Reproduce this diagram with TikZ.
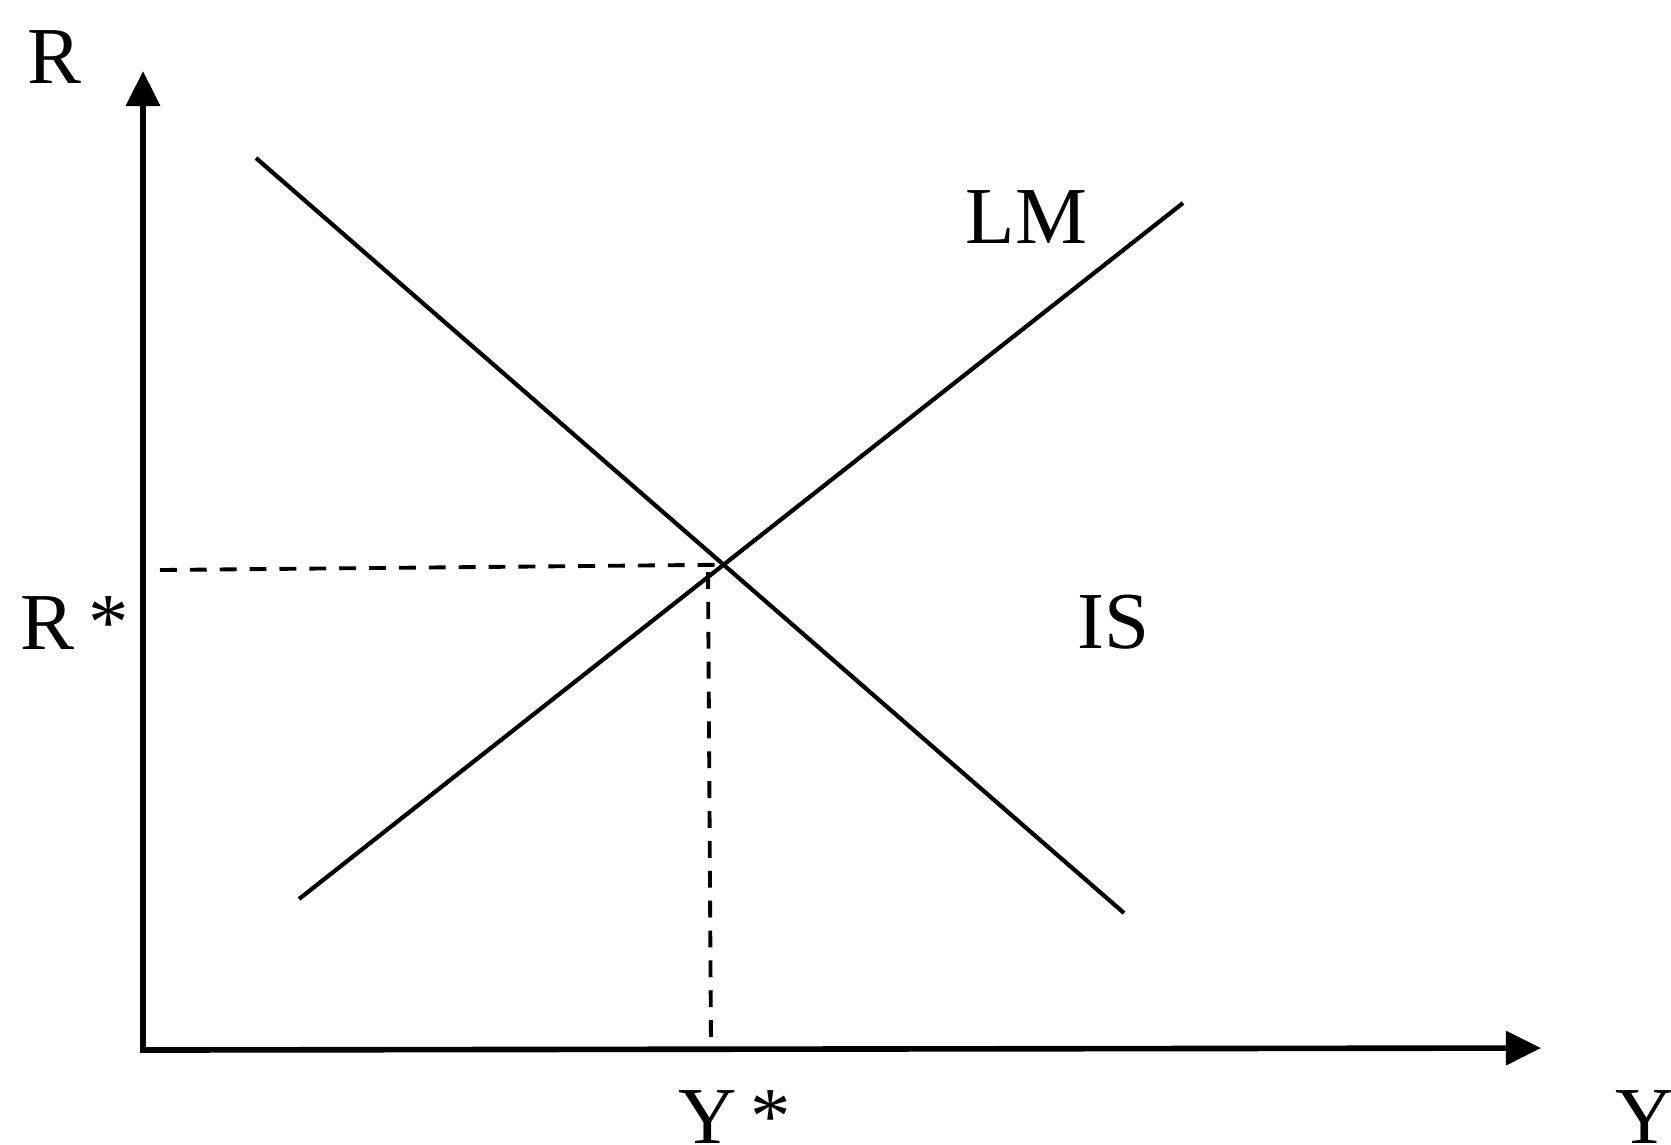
\documentclass[tikz,border=0pt]{standalone}
\usepackage{fontspec}
\setmainfont{Liberation Serif}
\usetikzlibrary{arrows.meta,intersections}
\begin{document}
\begin{tikzpicture}[x=0.1mm, y=-0.1mm,
    axis/.style={line width=1.6pt, {Triangle[length=10pt, width=9.5pt]}-{Triangle[length=10pt, width=9.5pt]}},
    curve/.style={line width=1.2pt},
    guide/.style={line width=1.1pt, dash pattern=on 4.8pt off 3.7pt},
    lbl/.style={font=\fontsize{23}{28}\selectfont, inner sep=0pt, anchor=base west}]
  \useasboundingbox (0,0) rectangle (1671,1144);
  % axes
  \coordinate (O) at (143,1050);
  \coordinate (ytip) at (143,71);
  \coordinate (xtip) at (1541,1048);
  \draw[axis] (ytip) -- (O) -- (xtip);
  % curves
  \draw[curve, name path=is] (256,158) coordinate (is1) -- (1124,913) coordinate (is2);
  \draw[curve, name path=lm] (299,899) coordinate (lm1) -- (1183,203) coordinate (lm2);
  \path[name intersections={of=is and lm, by=E}];
  % equilibrium guides
  \coordinate (rstar) at (160,570);
  \coordinate (ydrop) at (708,572);
  \coordinate (ystar) at (711,1047);
  \draw[guide] (rstar) -- (E);
  \draw[guide] (ydrop) -- (ystar);
  % labels
  \node[lbl] (Rlab) at (27,83) {R};
  \node[lbl] (Rstarlab) at (20,649) {R\,*};
  \node[lbl] (Ystarlab) at (678,1143) {Y\,*};
  \node[lbl] (Ylab) at (1615,1143) {Y};
  \node[lbl] (LMlab) at (965,243) {LM};
  \node[lbl] (ISlab) at (1077,648) {IS};
\end{tikzpicture}
\end{document}
